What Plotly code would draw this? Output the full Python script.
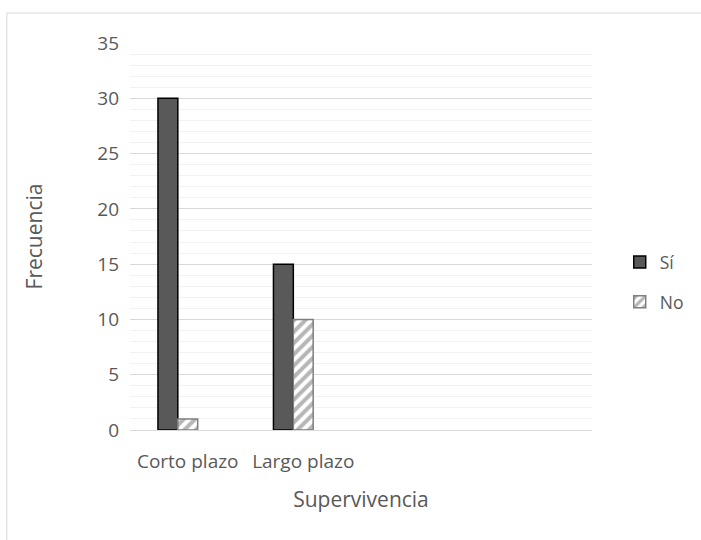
import plotly.graph_objects as go

# Survival frequency data
categories = ["Corto plazo", "Largo plazo", "", ""]
cat_pos = [0, 1, 2, 3]
si_values = [30, 15, None, None]
no_values = [1, 10, None, None]
y_ticks = [0, 5, 10, 15, 20, 25, 30, 35]

FONT = "Open Sans"
TEXT = "#595959"

fig = go.Figure()

fig.add_trace(go.Bar(
    x=cat_pos, y=si_values, name="Sí", legendgroup="si",
    width=0.172, offset=-0.258,
    marker=dict(color="#595959", line=dict(color="#000000", width=1.5)),
))
fig.add_trace(go.Bar(
    x=cat_pos, y=no_values, name="No", legendgroup="no",
    width=0.172, offset=-0.086,
    marker=dict(
        color="#ffffff",
        line=dict(color="#7f7f7f", width=1.5),
        pattern=dict(shape="/", fgcolor="#6e6e6e", bgcolor="#ffffff",
                     size=8, solidity=0.5),
    ),
))

# Outer chart frame (top and left edges)
fig.add_shape(type="line", xref="paper", yref="paper",
              x0=-0.2667, x1=1.5, y0=1.0775, y1=1.0775,
              line=dict(color="#d9d9d9", width=1))
fig.add_shape(type="line", xref="paper", yref="paper",
              x0=-0.2667, x1=-0.2667, y0=-0.5, y1=1.0775,
              line=dict(color="#d9d9d9", width=1))

fig.update_layout(
    width=701, height=540,
    margin=dict(l=130, r=106, t=43, b=110),
    paper_bgcolor="white", plot_bgcolor="white",
    font=dict(family=FONT, color=TEXT, size=18),
    barmode="overlay",
    showlegend=True,
    legend=dict(
        x=1.06, y=0.382, xanchor="left", yanchor="middle",
        font=dict(family=FONT, size=17.5, color=TEXT),
        tracegroupgap=14, itemwidth=30,
        bgcolor="rgba(0,0,0,0)",
    ),
    xaxis=dict(
        range=[-0.5, 3.5], automargin=False,
        tickmode="array", tickvals=cat_pos, ticktext=categories,
        showgrid=False, zeroline=False,
        showline=True, linecolor="#d9d9d9", linewidth=1,
        ticks="", ticklabelstandoff=14,
        tickfont=dict(size=19, color=TEXT),
        title=dict(text="Supervivencia", font=dict(size=21, color=TEXT), standoff=19),
    ),
    yaxis=dict(
        range=[0, 35], automargin=False,
        tickmode="array", tickvals=y_ticks,
        showgrid=True, gridcolor="#d9d9d9", gridwidth=1,
        minor=dict(dtick=1, showgrid=True, gridcolor="#f2f2f2", gridwidth=1),
        zeroline=False, showline=False, ticks="", ticklabelstandoff=10,
        tickfont=dict(size=19, color=TEXT),
        title=dict(text="Frecuencia", font=dict(size=21, color=TEXT), standoff=48),
    ),
)

fig.write_html("out.html")
